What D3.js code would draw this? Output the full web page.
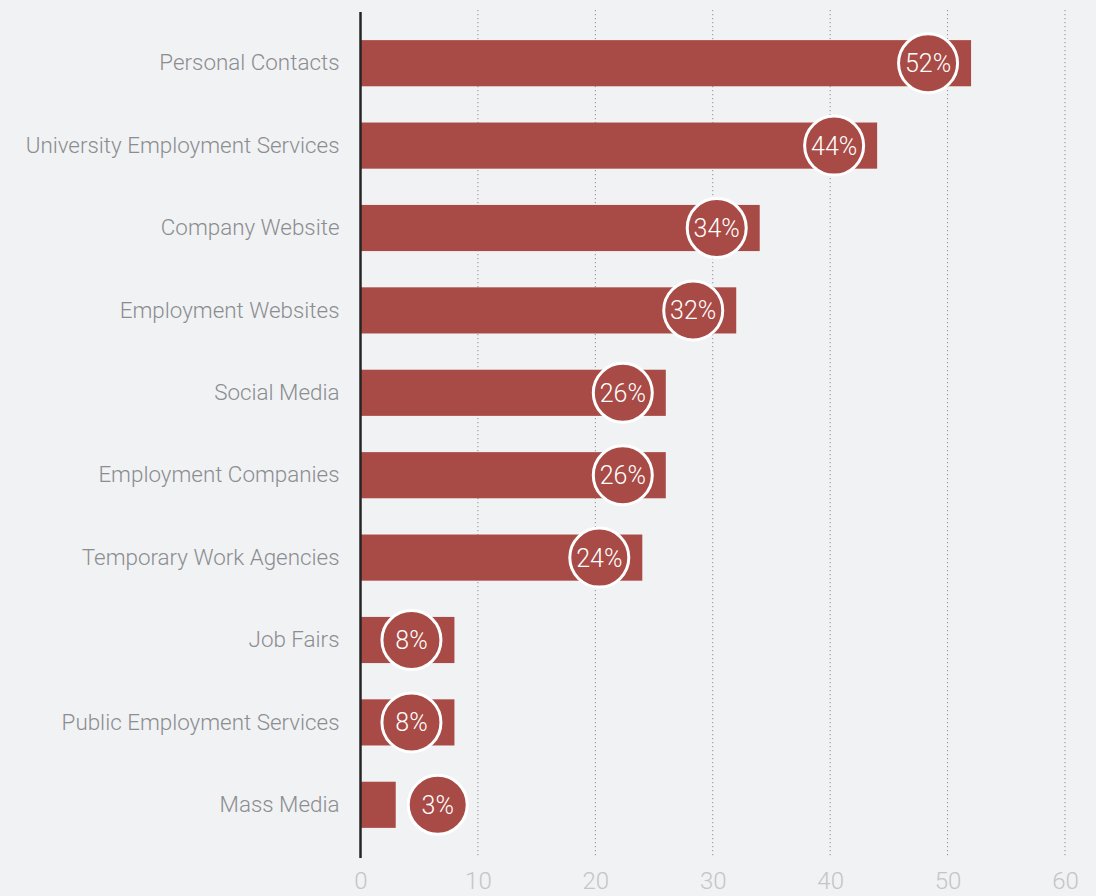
<!DOCTYPE html>
<html>
<head>
<meta charset="utf-8">
<script src="https://cdn.jsdelivr.net/npm/d3@7"></script>
<style>
  html, body { margin: 0; padding: 0; background: #f1f2f4; }
  svg { display: block; }
</style>
</head>
<body>
<svg id="chart" width="1096" height="896"></svg>
<script>
// Channels used to find a job (share of respondents, %)
const categories = [
  "Personal Contacts",
  "University Employment Services",
  "Company Website",
  "Employment Websites",
  "Social Media",
  "Employment Companies",
  "Temporary Work Agencies",
  "Job Fairs",
  "Public Employment Services",
  "Mass Media"
];
const values = [52, 44, 34, 32, 26, 26, 24, 8, 8, 3];
const tickValues = [0, 10, 20, 30, 40, 50, 60];

const data = categories.map((c, i) => ({ category: c, value: values[i] }));

const svg = d3.select("#chart");
const barColor = "#a84a45";
const font = "Roboto, 'Open Sans', sans-serif";

const x = d3.scaleLinear().domain([0, 60]).range([360.5, 1065]);
const y = d3.scaleBand()
  .domain(categories)
  .range([22, 846])
  .paddingInner(0.44)
  .paddingOuter(0.22);

const gridTop = 10, gridBottom = 858;

// dotted vertical grid lines
svg.append("g")
  .selectAll("line")
  .data(tickValues.filter(d => d > 0))
  .join("line")
  .attr("x1", d => x(d)).attr("x2", d => x(d))
  .attr("y1", gridTop).attr("y2", gridBottom)
  .attr("stroke", "#8e8e8e")
  .attr("stroke-width", 1)
  .attr("stroke-dasharray", "1.2,2.8");

// x axis tick labels
const xAxis = d3.axisBottom(x).tickValues(tickValues).tickSize(0).tickPadding(0);
const gx = svg.append("g").attr("transform", `translate(0,${889})`).call(xAxis);
gx.select(".domain").remove();
gx.selectAll("text")
  .attr("dy", 0)
  .attr("y", 0)
  .attr("font-family", font)
  .attr("font-weight", 300)
  .attr("font-size", 24)
  .attr("fill", "#c4c5c7");

// bars
svg.append("g")
  .selectAll("rect")
  .data(data)
  .join("rect")
  .attr("x", x(0))
  .attr("y", d => y(d.category))
  .attr("width", d => x(d.value) - x(0))
  .attr("height", y.bandwidth())
  .attr("fill", barColor);

// category labels
const yAxis = d3.axisLeft(y).tickSize(0).tickPadding(21);
const gy = svg.append("g").attr("transform", `translate(${x(0)},0)`).call(yAxis);
gy.select(".domain").remove();
gy.selectAll("text")
  .attr("font-family", font)
  .attr("font-weight", 300)
  .attr("font-size", 22.4)
  .attr("fill", "#8b8d90");

// vertical baseline
svg.append("line")
  .attr("x1", x(0)).attr("x2", x(0))
  .attr("y1", 12).attr("y2", gridBottom)
  .attr("stroke", "#252525")
  .attr("stroke-width", 2.5);

// value badges
const r = 29.5;
const badgeX = d => {
  const inside = x(d.value) - 43;
  return inside - r < x(0) + 8 ? x(d.value) + 42 : inside;
};
const badges = svg.append("g")
  .selectAll("g")
  .data(data)
  .join("g")
  .attr("transform", d => `translate(${badgeX(d)},${y(d.category) + y.bandwidth() / 2})`);

badges.append("circle")
  .attr("r", r)
  .attr("fill", barColor)
  .attr("stroke", "#ffffff")
  .attr("stroke-width", 3);

badges.append("text")
  .attr("text-anchor", "middle")
  .attr("dy", "0.36em")
  .attr("font-family", font)
  .attr("font-weight", 300)
  .attr("font-size", 25)
  .attr("fill", "#ffffff")
  .text(d => d.value + "%");
</script>
</body>
</html>
